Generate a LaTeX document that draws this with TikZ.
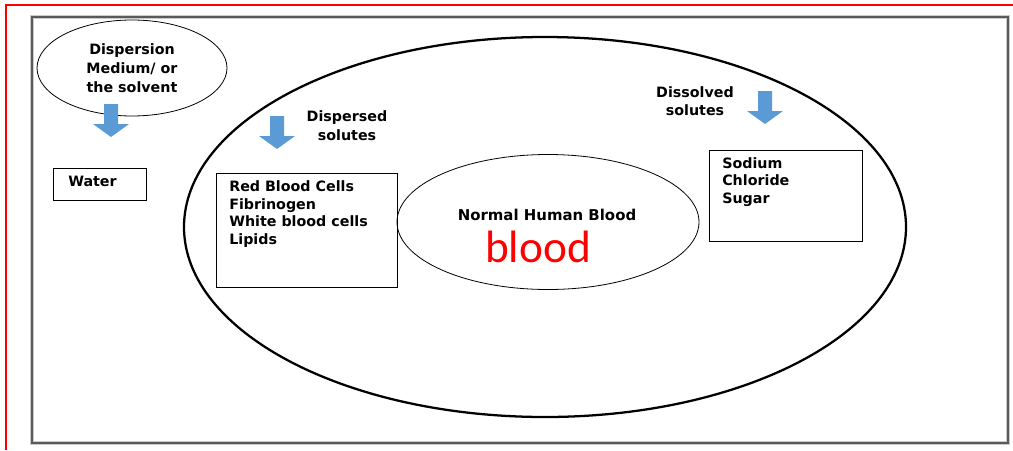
\documentclass[tikz,border=0pt]{standalone}
\usepackage{fontspec}
\setmainfont{DejaVu Sans}
\newfontfamily\bloodfont{Carlito}
\usetikzlibrary{shapes.geometric}
\definecolor{arrowblue}{HTML}{5B9BD5}
\tikzset{
  lbl/.style={font=\bfseries\fontsize{10.7}{13.1}\selectfont, inner sep=0pt},
  boxnode/.style={draw, line width=0.7pt, inner sep=0pt},
  thinell/.style={ellipse, draw, line width=0.6pt, inner sep=0pt},
  downarrow/.pic={\fill[arrowblue] (-7,0) -- (7,0) -- (7,20) -- (18,20) -- (0,33) -- (-18,20) -- (-7,20) -- cycle;}
}
\begin{document}
\begin{tikzpicture}[x=0.75pt,y=-0.75pt]
\useasboundingbox (0,0) rectangle (1013,450);
% red border lines
\draw[red, line width=1.5pt] (6,450) -- (6,5) -- (1013,5);
% grey frame
\draw[gray!40, line width=3.2pt] (32,17) rectangle (1008,443);
\draw[black!65, line width=1.1pt] (32,17) rectangle (1008,443);
% big ellipse
\node[ellipse, draw, line width=1.7pt, minimum width=541.5pt, minimum height=285pt, inner sep=0pt] (outer) at (545,227) {};
% dispersion medium ellipse
\node[thinell, minimum width=142.5pt, minimum height=72pt, align=center, lbl, font=\bfseries\fontsize{10.7}{14.2}\selectfont] (medium) at (132,68) {Dispersion\\Medium/ or\\the solvent};
% normal human blood ellipse
\node[thinell, minimum width=226.5pt, minimum height=101.25pt] (blood) at (548,222) {};
\node[lbl, font=\bfseries\fontsize{11.2}{13}\selectfont] (nhb) at (547,215) {Normal Human Blood};
\node[font=\bloodfont\fontsize{34}{36}\selectfont, text=red, inner sep=0pt] (bloodword) at (538,247) {blood};
% arrows
\pic at (111,104) {downarrow};
\pic at (277,116) {downarrow};
\pic at (765,91) {downarrow};
% labels
\node[lbl, align=center, font=\bfseries\fontsize{10.7}{14}\selectfont] (dispersed) at (347,126) {Dispersed\\solutes};
\node[lbl, align=center, font=\bfseries\fontsize{10.7}{13.5}\selectfont] (dissolved) at (695,101) {Dissolved\\solutes};
% boxes
\node[boxnode, minimum width=69.75pt, minimum height=24pt] (waterbox) at (99.5,184) {};
\node[lbl, anchor=west] (water) at (68,181) {Water};
\node[boxnode, minimum width=135.75pt, minimum height=85.5pt] (rbcbox) at (306.5,230) {};
\node[lbl, anchor=west, align=left] (rbc) at (229,214) {Red Blood Cells\\Fibrinogen\\White blood cells\\Lipids};
\node[boxnode, minimum width=114.75pt, minimum height=68.25pt] (nabox) at (785.5,195.5) {};
\node[lbl, anchor=west, align=left] (na) at (722,182) {Sodium\\Chloride\\Sugar};
\end{tikzpicture}
\end{document}
